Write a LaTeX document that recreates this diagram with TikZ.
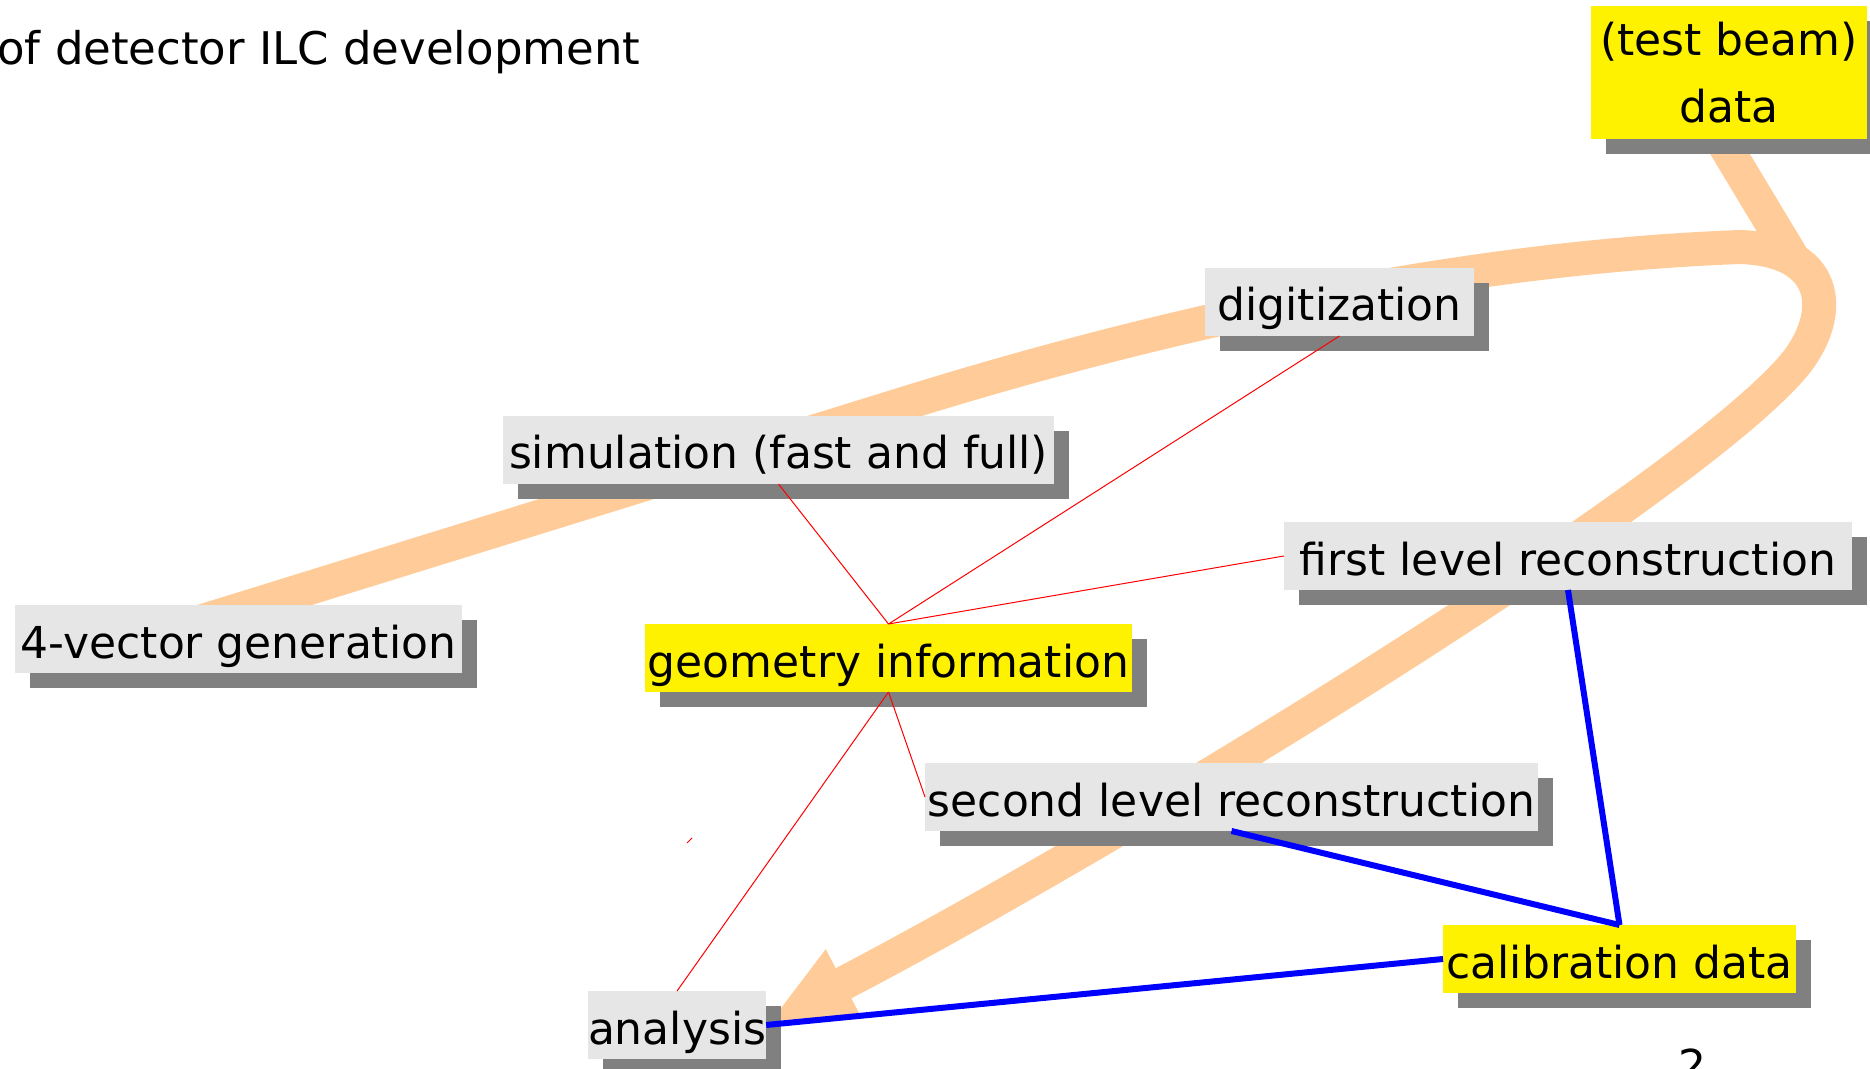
\documentclass[tikz,border=0pt]{standalone}
\usepackage{fontspec}
\setmainfont{DejaVu Sans}
\usetikzlibrary{shadows,arrows.meta}
\definecolor{boxgray}{HTML}{E6E6E6}
\definecolor{shadowgray}{HTML}{808080}
\definecolor{peach}{HTML}{FFCC99}
\begin{document}
\begin{tikzpicture}[x=0.5pt,y=-0.5pt,
  every node/.style={font=\fontsize{22pt}{33.5pt}\selectfont},
  tbox/.style={anchor=north west, inner sep=0pt, outer sep=0pt,
    text height=26.5pt, text depth=7.5pt,
    general shadow={fill=shadowgray, shadow xshift=7.5pt, shadow yshift=-7.5pt}},
  graybox/.style={tbox, fill=boxgray},
  yelbox/.style={tbox, fill=yellow},
  flow/.style={draw=peach, line width=17pt},
  geoline/.style={draw=red, line width=0.5pt},
  calline/.style={draw=blue, line width=3pt},
]
\useasboundingbox (0,0) rectangle (1870,1069);
\clip (0,0) rectangle (1870,1069);

% orange flow
\coordinate (fstart) at (190,625);
\coordinate (fbend) at (900,405);
\coordinate (ftop) at (1740,247);
\coordinate (fturn) at (1790,370);
\coordinate (ftip) at (769,1022);
\coordinate (tbout) at (1721,139);
\coordinate (tbin) at (1795,262);
\draw[flow] (tbout) -- (tbin);
\draw[flow, -{Triangle[length=42pt,width=35pt]}] (fstart) -- (fbend)
  .. controls (1150,327) and (1450,258) .. (ftop)
  .. controls (1835,250) and (1835,320) .. (fturn)
  .. controls (1670,504) and (1100,850) .. (ftip);

% title
\node[anchor=base west, inner sep=0pt, font=\fontsize{22.5pt}{33.5pt}\selectfont] (title) at (-3,65) {of detector ILC development};

% boxes
\node[yelbox, minimum width=138pt, minimum height=66.5pt, align=center, text height=, text depth=] (tb) at (1591,6) {(test beam)\\data};
\node[graybox, minimum width=134.5pt] (digi) at (1205,268) {digitization};
\node[graybox, minimum width=275.5pt] (sim) at (503,416) {simulation (fast and full)};
\node[graybox, minimum width=223.5pt] (fourvec) at (15,605) {4-vector generation};
\node[yelbox, minimum width=243.5pt] (geo) at (645,624) {geometry information};
\node[graybox, minimum width=284pt] (first) at (1284,522) {first level reconstruction};
\node[graybox, minimum width=306.5pt] (second) at (925,763) {second level reconstruction};
\node[yelbox, minimum width=176.5pt] (calib) at (1443,925) {calibration data};
\node[graybox, minimum width=88.5pt] (ana) at (588,991) {analysis};

% page number (cut by the lower edge, as in the original)
\node[anchor=base, inner sep=0pt] (pnum) at (1692,1081) {2};

% red geometry links
\draw[geoline] (sim.south) -- (geo.north);
\draw[geoline] (digi.south) -- (geo.north);
\draw[geoline] (first.west) -- (geo.north);
\draw[geoline] (geo.south) -- (ana.north);
\draw[geoline] (geo.south) -- (second.west);
\coordinate (stubA) at (687,843);
\coordinate (stubB) at (692,838);
\draw[geoline] (stubA) -- (stubB);

% blue calibration links
\draw[calline] (first.south) -- (calib.north);
\draw[calline] (second.south) -- (calib.north);
\draw[calline] (calib.west) -- (ana.east);
\end{tikzpicture}
\end{document}
